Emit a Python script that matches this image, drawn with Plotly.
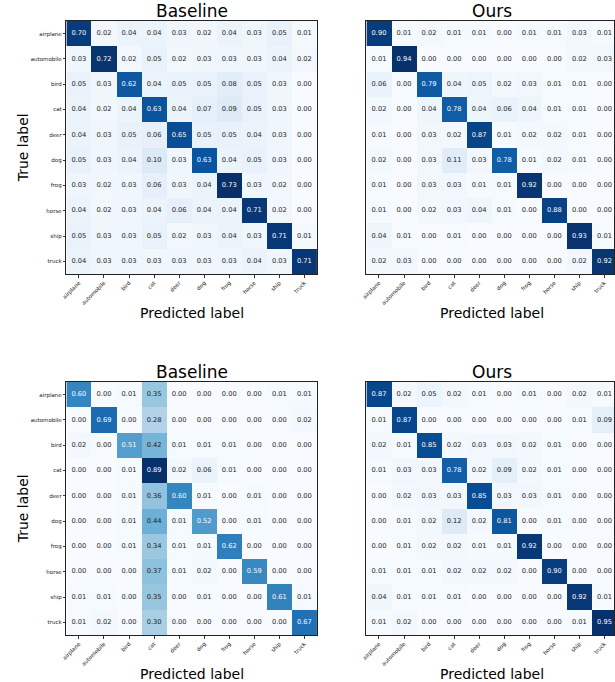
import plotly.graph_objects as go

classes = ["airplane", "automobile", "bird", "cat", "deer", "dog", "frog", "horse", "ship", "truck"]

baseline_top = [
    [0.70, 0.02, 0.04, 0.04, 0.03, 0.02, 0.04, 0.03, 0.05, 0.01],
    [0.03, 0.72, 0.02, 0.05, 0.02, 0.03, 0.03, 0.03, 0.04, 0.02],
    [0.05, 0.03, 0.62, 0.04, 0.05, 0.05, 0.08, 0.05, 0.03, 0.00],
    [0.04, 0.02, 0.04, 0.63, 0.04, 0.07, 0.09, 0.05, 0.03, 0.00],
    [0.04, 0.03, 0.05, 0.06, 0.65, 0.05, 0.05, 0.04, 0.03, 0.00],
    [0.05, 0.03, 0.04, 0.10, 0.03, 0.63, 0.04, 0.05, 0.03, 0.00],
    [0.03, 0.02, 0.03, 0.06, 0.03, 0.04, 0.73, 0.03, 0.02, 0.00],
    [0.04, 0.02, 0.03, 0.04, 0.06, 0.04, 0.04, 0.71, 0.02, 0.00],
    [0.05, 0.03, 0.03, 0.05, 0.02, 0.03, 0.04, 0.03, 0.71, 0.01],
    [0.04, 0.03, 0.03, 0.03, 0.03, 0.03, 0.03, 0.04, 0.03, 0.71],
]

ours_top = [
    [0.90, 0.01, 0.02, 0.01, 0.01, 0.00, 0.01, 0.01, 0.03, 0.01],
    [0.01, 0.94, 0.00, 0.00, 0.00, 0.00, 0.00, 0.00, 0.02, 0.03],
    [0.06, 0.00, 0.79, 0.04, 0.05, 0.02, 0.03, 0.01, 0.01, 0.00],
    [0.02, 0.00, 0.04, 0.78, 0.04, 0.06, 0.04, 0.01, 0.01, 0.00],
    [0.01, 0.00, 0.03, 0.02, 0.87, 0.01, 0.02, 0.02, 0.01, 0.00],
    [0.02, 0.00, 0.03, 0.11, 0.03, 0.78, 0.01, 0.02, 0.01, 0.00],
    [0.01, 0.00, 0.03, 0.03, 0.01, 0.01, 0.92, 0.00, 0.00, 0.00],
    [0.01, 0.00, 0.02, 0.03, 0.04, 0.01, 0.00, 0.88, 0.00, 0.00],
    [0.04, 0.01, 0.00, 0.01, 0.00, 0.00, 0.00, 0.00, 0.93, 0.01],
    [0.02, 0.03, 0.00, 0.00, 0.00, 0.00, 0.00, 0.00, 0.02, 0.92],
]

baseline_bottom = [
    [0.60, 0.00, 0.01, 0.35, 0.00, 0.00, 0.00, 0.00, 0.01, 0.01],
    [0.00, 0.69, 0.00, 0.28, 0.00, 0.00, 0.00, 0.00, 0.00, 0.02],
    [0.02, 0.00, 0.51, 0.42, 0.01, 0.01, 0.01, 0.00, 0.00, 0.00],
    [0.00, 0.00, 0.01, 0.89, 0.02, 0.06, 0.01, 0.00, 0.00, 0.00],
    [0.00, 0.00, 0.01, 0.36, 0.60, 0.01, 0.00, 0.01, 0.00, 0.00],
    [0.00, 0.00, 0.01, 0.44, 0.01, 0.52, 0.00, 0.01, 0.00, 0.00],
    [0.00, 0.00, 0.01, 0.34, 0.01, 0.01, 0.62, 0.00, 0.00, 0.00],
    [0.00, 0.00, 0.00, 0.37, 0.01, 0.02, 0.00, 0.59, 0.00, 0.00],
    [0.01, 0.01, 0.00, 0.35, 0.00, 0.01, 0.00, 0.00, 0.61, 0.01],
    [0.01, 0.02, 0.00, 0.30, 0.00, 0.00, 0.00, 0.00, 0.00, 0.67],
]

ours_bottom = [
    [0.87, 0.02, 0.05, 0.02, 0.01, 0.00, 0.01, 0.00, 0.02, 0.01],
    [0.01, 0.87, 0.00, 0.00, 0.00, 0.00, 0.00, 0.00, 0.01, 0.09],
    [0.02, 0.01, 0.85, 0.02, 0.03, 0.03, 0.02, 0.01, 0.00, 0.00],
    [0.01, 0.03, 0.03, 0.78, 0.02, 0.09, 0.02, 0.01, 0.00, 0.00],
    [0.00, 0.02, 0.03, 0.03, 0.85, 0.03, 0.03, 0.01, 0.00, 0.00],
    [0.00, 0.01, 0.02, 0.12, 0.02, 0.81, 0.00, 0.01, 0.00, 0.00],
    [0.00, 0.01, 0.02, 0.02, 0.01, 0.01, 0.92, 0.00, 0.00, 0.00],
    [0.01, 0.01, 0.01, 0.02, 0.02, 0.02, 0.00, 0.90, 0.00, 0.00],
    [0.04, 0.01, 0.01, 0.01, 0.00, 0.00, 0.00, 0.00, 0.92, 0.01],
    [0.01, 0.02, 0.00, 0.00, 0.00, 0.00, 0.00, 0.00, 0.01, 0.95],
]

titles = ["Baseline", "Ours", "Baseline", "Ours"]

W, H = 615, 682
blues = ["#f7fbff", "#deebf7", "#c6dbef", "#9ecae1", "#6baed6",
         "#4292c6", "#2171b5", "#08519c", "#08306b"]
colorscale = [[i / 8, c] for i, c in enumerate(blues)]
FONT = "DejaVu Sans"

panels = [
    # (matrix, left px, top px, show y labels)
    (baseline_top, 62, 21, True),
    (ours_top, 365, 21, False),
    (baseline_bottom, 62, 382, True),
    (ours_bottom, 365, 382, False),
]
CELL = 25.3

fig = go.Figure()
layout = dict(width=W, height=H, margin=dict(l=0, r=0, t=0, b=0),
              paper_bgcolor="white", plot_bgcolor="white", showlegend=False,
              font=dict(family=FONT, color="black"))
annotations = []
n = len(classes)
idx = list(range(n))

for k, (mat, left, top, show_y) in enumerate(panels):
    sfx = "" if k == 0 else str(k + 1)
    xa, ya = "x" + sfx, "y" + sfx
    zmax = max(max(r) for r in mat)
    fig.add_trace(go.Heatmap(z=mat, x=idx, y=idx, colorscale=colorscale, zmin=0, zmax=zmax,
                             showscale=False, xaxis=xa, yaxis=ya, hoverinfo="skip"))
    tx, ty, tt, tc = [], [], [], []
    for i in range(n):
        for j in range(n):
            v = mat[i][j]
            tx.append(j)
            ty.append(i)
            tt.append(f"{v:.2f}")
            tc.append("white" if v > zmax / 2 else "#1a1a1a")
    fig.add_trace(go.Scatter(x=tx, y=ty, text=tt, mode="text", xaxis=xa, yaxis=ya,
                             cliponaxis=True,
                             textfont=dict(family=FONT, size=6.7, color=tc), hoverinfo="skip"))
    right_px = left + CELL * n
    x1 = min(right_px, W) / W
    xmax = 9.5 - max(0, right_px - W) / CELL
    bottom = top + CELL * 10
    xdom = [left / W, x1]
    ydom = [1 - bottom / H, 1 - top / H]
    layout["xaxis" + sfx] = dict(domain=xdom, anchor=ya, range=[-0.5, xmax], tickvals=idx,
                                 ticktext=classes, tickangle=-45, ticks="outside", ticklen=2.5,
                                 tickcolor="#333", tickfont=dict(size=5.5, family=FONT, color="#222"),
                                 showgrid=False, zeroline=False, showline=True, linecolor="#222",
                                 linewidth=1.2, mirror=True)
    layout["yaxis" + sfx] = dict(domain=ydom, anchor=xa, range=[9.5, -0.5], tickvals=idx,
                                 ticktext=classes, showticklabels=show_y,
                                 ticks="outside" if show_y else "", ticklen=2.5, tickcolor="#333",
                                 tickfont=dict(size=5.5, family=FONT, color="#222"),
                                 showgrid=False, zeroline=False, showline=True, linecolor="#222",
                                 linewidth=1.2, mirror=True)
    cx = (left + CELL * 5) / W
    annotations.append(dict(text=titles[k], x=cx, y=1 - top / H, xref="paper", yref="paper",
                            xanchor="center", yanchor="bottom", yshift=-2, showarrow=False,
                            font=dict(size=17, family=FONT, color="black")))
    annotations.append(dict(text="Predicted label", x=cx, y=1 - (bottom + 39) / H, xref="paper",
                            yref="paper", xanchor="center", yanchor="middle", showarrow=False,
                            font=dict(size=14, family=FONT, color="black")))
    if show_y:
        annotations.append(dict(text="True label", x=18 / W, y=1 - (top + CELL * 5) / H,
                                xref="paper", yref="paper", xanchor="center", yanchor="middle",
                                textangle=-90, showarrow=False,
                                font=dict(size=14, family=FONT, color="black")))

layout["annotations"] = annotations
fig.update_layout(**layout)
fig.write_html("out.html", config={"displayModeBar": False},
               post_script="document.body.style.margin='0';document.body.style.overflow='hidden';")
